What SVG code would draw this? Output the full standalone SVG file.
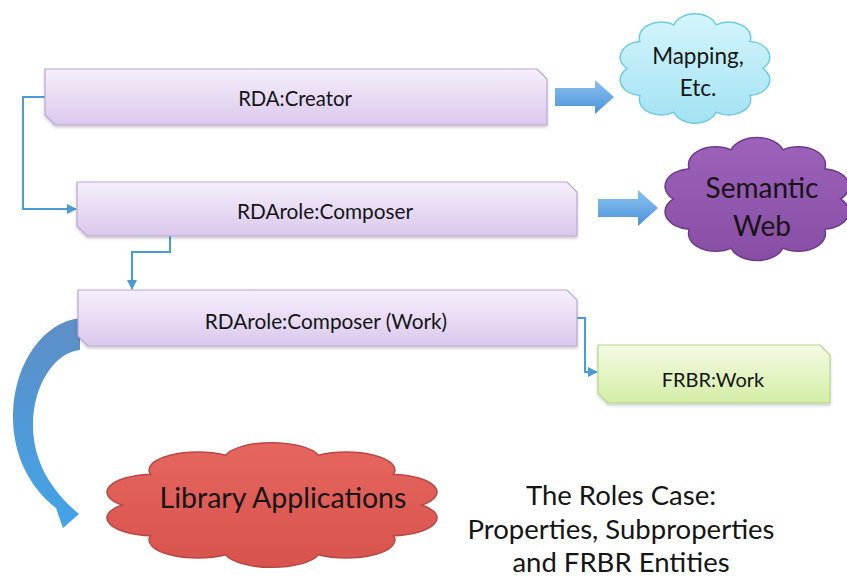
<svg xmlns="http://www.w3.org/2000/svg" xmlns:xlink="http://www.w3.org/1999/xlink" width="847" height="578" viewBox="0 0 847 578">
<style>
.box{fill:url(#gBox);stroke:#bba6d3;stroke-width:1.2;filter:url(#sh)}
.green{fill:url(#gGreen);stroke:#b5d689;stroke-width:1.2;filter:url(#sh)}
.lbl{font-family:Lato,"Open Sans","Liberation Sans",sans-serif;fill:#151515;text-anchor:middle}
.conn{fill:none;stroke:#4a9bd6;stroke-width:2}
.blk{fill:url(#gBlk)}
.cloud{stroke-width:1.5}
</style>
<defs>
<linearGradient id="gBox" x1="0" y1="0" x2="0" y2="1"><stop offset="0" stop-color="#f6effc"/><stop offset="1" stop-color="#dac8ec"/></linearGradient>
<linearGradient id="gGreen" x1="0" y1="0" x2="0" y2="1"><stop offset="0" stop-color="#f5fbe4"/><stop offset="1" stop-color="#d3eda5"/></linearGradient>
<linearGradient id="gBlk" x1="0" y1="0" x2="0" y2="1"><stop offset="0" stop-color="#8cc3ee"/><stop offset="1" stop-color="#4b92db"/></linearGradient>
<linearGradient id="gRib" x1="0" y1="0" x2="0" y2="1"><stop offset="0" stop-color="#5f8ec6"/><stop offset="1" stop-color="#41a4e8"/></linearGradient>
<linearGradient id="gCyan" x1="0" y1="0" x2="0" y2="1"><stop offset="0" stop-color="#d4f5fc"/><stop offset="1" stop-color="#a3e2f3"/></linearGradient>
<linearGradient id="gPurp" x1="0" y1="0" x2="0" y2="1"><stop offset="0" stop-color="#9d62ba"/><stop offset="1" stop-color="#884ea6"/></linearGradient>
<linearGradient id="gRed" x1="0" y1="0" x2="0" y2="1"><stop offset="0" stop-color="#e6665f"/><stop offset="1" stop-color="#d8534e"/></linearGradient>
<filter id="sh" x="-5%" y="-20%" width="110%" height="150%"><feDropShadow dx="0" dy="2" stdDeviation="1.5" flood-color="#000" flood-opacity="0.2"/></filter>
<marker id="ah" viewBox="0 0 10 10" refX="9" refY="5" markerWidth="5" markerHeight="5" orient="auto"><path d="M0,0 L10,5 L0,10 Z" fill="#4a9bd6"/></marker>
<path id="cloud" vector-effect="non-scaling-stroke" d="M10,50 A13,13 0 0 1 17.6,27.7 A13,13 0 0 1 37.6,13.9 A13,13 0 0 1 62.4,13.9 A13,13 0 0 1 82.4,27.7 A13,13 0 0 1 90,50 A13,13 0 0 1 82.4,72.3 A13,13 0 0 1 62.4,86.1 A13,13 0 0 1 37.6,86.1 A13,13 0 0 1 17.6,72.3 A13,13 0 0 1 10,50 Z"/>
</defs>
<rect width="847" height="578" fill="#fff"/>

<g id="connectors">
<path class="conn" d="M45,97 H23 V209 H76" marker-end="url(#ah)"/>
<path class="conn" d="M170,236 V252 H132 V289" marker-end="url(#ah)"/>
<path class="conn" d="M577,318 H585 V372 H597" marker-end="url(#ah)"/>
<path class="blk" d="M555,88 H595 V80 L614,97 L595,114 V106 H555 Z"/>
<path class="blk" d="M598,199 H638 V190 L658,208 L638,226 V217 H598 Z"/>
<path fill="url(#gRib)" d="M80,318 C45,322 15,360 13,413 C12,455 30,488 56,508 L63,528 L79,514 C50,490 33,460 33,425 C33,385 55,352 80,350 Z"/>
</g>

<g id="creator">
<path class="box" d="M45,69 H537 L547,79 V125 H55 L45,115 Z"/>
<text class="lbl" x="295" y="106" font-size="20.3">RDA:Creator</text>
</g>
<g id="composer">
<path class="box" d="M77,182 H567 L577,192 V236 H87 L77,226 Z"/>
<text class="lbl" x="325" y="219" font-size="20.8">RDArole:Composer</text>
</g>
<g id="composer-work">
<path class="box" d="M78,290 H567 L577,300 V346 H88 L78,336 Z"/>
<text class="lbl" x="326" y="329" font-size="20.8">RDArole:Composer (Work)</text>
</g>
<g id="frbr-work">
<path class="green" d="M598,345 H820 L830,355 V403 H608 L598,393 Z"/>
<text class="lbl" x="713" y="387" font-size="20">FRBR:Work</text>
</g>

<g id="mapping">
<use href="#cloud" class="cloud" fill="url(#gCyan)" stroke="#6ccbe3" transform="translate(610,8) scale(1.7,1.21)"/>
<text class="lbl" x="698" y="64" font-size="22.5">Mapping,</text>
<text class="lbl" x="698" y="96" font-size="22.5">Etc.</text>
</g>
<g id="semantic-web">
<use href="#cloud" class="cloud" fill="url(#gPurp)" stroke="#6d3b8a" transform="translate(652.5,131) scale(2.09,1.36)"/>
<text class="lbl" x="762" y="198" font-size="28">Semantic</text>
<text class="lbl" x="762" y="236" font-size="28">Web</text>
</g>
<g id="library-applications">
<use href="#cloud" class="cloud" fill="url(#gRed)" stroke="#b94743" transform="translate(84.5,436) scale(3.75,1.38)"/>
<text class="lbl" x="283" y="508" font-size="28.5">Library Applications</text>
</g>

<g id="title">
<text class="lbl" x="621" y="505" font-size="27.5">The Roles Case:</text>
<text class="lbl" x="621" y="539" font-size="27.5">Properties, Subproperties</text>
<text class="lbl" x="621" y="572" font-size="27.5">and FRBR Entities</text>
</g>
</svg>
